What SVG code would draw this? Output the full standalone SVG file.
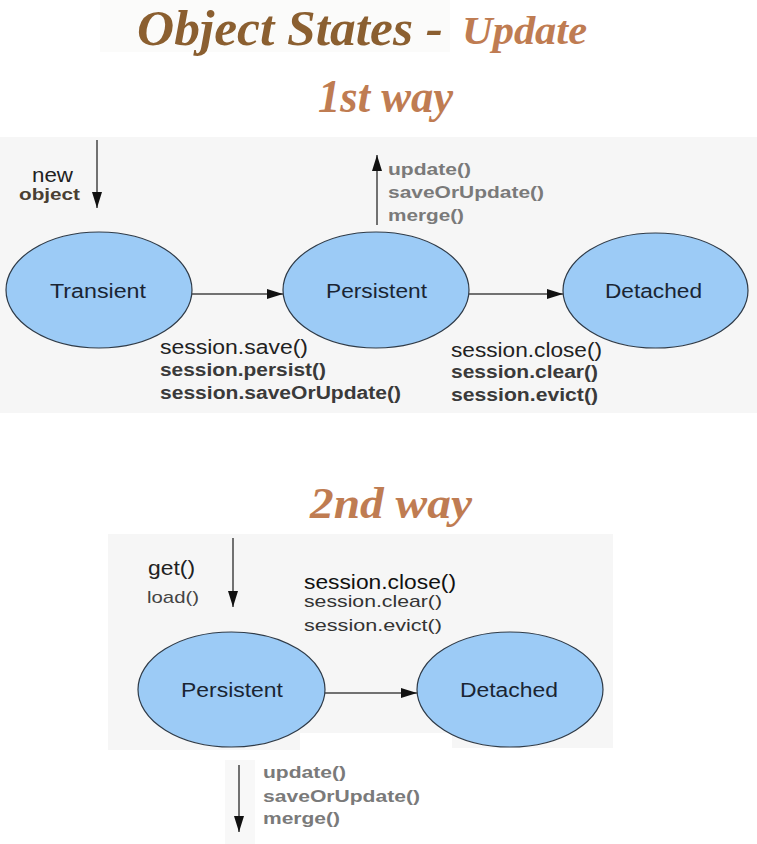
<svg xmlns="http://www.w3.org/2000/svg" width="757" height="844" viewBox="0 0 757 844">
<defs>
<marker id="arr" markerUnits="userSpaceOnUse" markerWidth="16" markerHeight="10" refX="16" refY="5" orient="auto">
<path d="M0,0 L16,5 L0,10 z" fill="#111"/>
</marker>
<style>
.bg{fill:#f6f6f6}
.node{fill:#9ccbf6;stroke:#2f3b48;stroke-width:1.2}
.lbl{font-family:"Liberation Sans",Arial,sans-serif;font-size:20px;fill:#1a2533}
.t{font-family:"Liberation Sans",Arial,sans-serif}
.reg{font-size:20px;fill:#222}
.sm{font-size:17px;fill:#444}
.b{font-size:17px;font-weight:bold;fill:#3a3a3a}
.g{font-size:17px;font-weight:bold;fill:#7a7a7a}
.title{font-family:"Liberation Serif","Times New Roman",serif;font-weight:bold;font-style:italic}
.conn line{stroke:#444;stroke-width:1.5;marker-end:url(#arr)}
</style>
</defs>
<rect width="757" height="844" fill="#ffffff"/>
<rect x="100" y="0" width="350" height="52" fill="#fbfbfa"/>
<rect class="bg" x="0" y="137" width="757" height="276"/>
<path class="bg" d="M108,534 H613 V748 H452 V733 H300 V750 H108 Z"/>
<rect x="225" y="760" width="30" height="84" fill="#f8f8f8"/>

<g id="titles">
<text class="title" x="137" y="45" font-size="50" fill="#8b5f30" textLength="306" lengthAdjust="spacingAndGlyphs">Object States -</text>
<text class="title" x="462" y="44" font-size="40" fill="#bf7c52" textLength="125" lengthAdjust="spacingAndGlyphs">Update</text>
<text class="title" x="318" y="112" font-size="46" fill="#bf7c52" textLength="135" lengthAdjust="spacingAndGlyphs">1st way</text>
<text class="title" x="310" y="518" font-size="44" fill="#bf7c52" textLength="162" lengthAdjust="spacingAndGlyphs">2nd way</text>
</g>

<g id="connectors" class="conn">
<line x1="97" y1="140" x2="97" y2="208"/>
<line x1="192" y1="294" x2="283" y2="294"/>
<line x1="377" y1="225" x2="377" y2="155"/>
<line x1="469" y1="294" x2="563" y2="294"/>
<line x1="233" y1="538" x2="233" y2="607"/>
<line x1="325" y1="693" x2="417" y2="693"/>
<line x1="239" y1="765" x2="239" y2="832"/>
</g>

<g id="transient1">
<ellipse class="node" cx="99" cy="290" rx="93" ry="58"/>
<text class="lbl" x="50" y="298" textLength="96" lengthAdjust="spacingAndGlyphs">Transient</text>
</g>
<g id="persistent1">
<ellipse class="node" cx="376" cy="290" rx="93" ry="58"/>
<text class="lbl" x="326" y="298" textLength="101" lengthAdjust="spacingAndGlyphs">Persistent</text>
</g>
<g id="detached1">
<ellipse class="node" cx="655.5" cy="290.5" rx="92.5" ry="57.5"/>
<text class="lbl" x="605" y="298" textLength="97" lengthAdjust="spacingAndGlyphs">Detached</text>
</g>
<g id="persistent2">
<ellipse class="node" cx="231.5" cy="689.5" rx="93.5" ry="57.5"/>
<text class="lbl" x="181" y="697" textLength="102" lengthAdjust="spacingAndGlyphs">Persistent</text>
</g>
<g id="detached2">
<ellipse class="node" cx="510" cy="689.5" rx="93" ry="57.5"/>
<text class="lbl" x="460" y="697" textLength="98" lengthAdjust="spacingAndGlyphs">Detached</text>
</g>

<g id="labels1">
<text class="t reg" x="32" y="182" font-size="19" textLength="41" lengthAdjust="spacingAndGlyphs">new</text>
<text class="t b" x="19" y="200" style="fill:#4a3f33" textLength="61" lengthAdjust="spacingAndGlyphs">object</text>
<text class="t reg" x="160" y="354" textLength="148" lengthAdjust="spacingAndGlyphs">session.save()</text>
<text class="t b" x="160" y="376" font-size="18" style="font-size:18px" textLength="166" lengthAdjust="spacingAndGlyphs">session.persist()</text>
<text class="t b" x="160" y="399" style="font-size:18px" textLength="241" lengthAdjust="spacingAndGlyphs">session.saveOrUpdate()</text>
<text class="t g" x="388" y="175" textLength="83" lengthAdjust="spacingAndGlyphs">update()</text>
<text class="t g" x="388" y="198" textLength="156" lengthAdjust="spacingAndGlyphs">saveOrUpdate()</text>
<text class="t g" x="388" y="221" textLength="76" lengthAdjust="spacingAndGlyphs">merge()</text>
<text class="t reg" x="451" y="357" textLength="151" lengthAdjust="spacingAndGlyphs">session.close()</text>
<text class="t b" x="451" y="378" style="font-size:18px" textLength="147" lengthAdjust="spacingAndGlyphs">session.clear()</text>
<text class="t b" x="451" y="401" style="font-size:18px" textLength="147" lengthAdjust="spacingAndGlyphs">session.evict()</text>
</g>

<g id="labels2">
<text class="t reg" x="148" y="575" textLength="47" lengthAdjust="spacingAndGlyphs">get()</text>
<text class="t sm" x="147" y="603" textLength="52" lengthAdjust="spacingAndGlyphs">load()</text>
<text class="t reg" x="304" y="589" style="fill:#111" textLength="152" lengthAdjust="spacingAndGlyphs">session.close()</text>
<text class="t sm" x="304" y="607" style="fill:#333" textLength="138" lengthAdjust="spacingAndGlyphs">session.clear()</text>
<text class="t sm" x="304" y="631" style="fill:#333" textLength="138" lengthAdjust="spacingAndGlyphs">session.evict()</text>
<text class="t g" x="263" y="778" textLength="83" lengthAdjust="spacingAndGlyphs">update()</text>
<text class="t g" x="263" y="802" textLength="157" lengthAdjust="spacingAndGlyphs">saveOrUpdate()</text>
<text class="t g" x="263" y="824" textLength="77" lengthAdjust="spacingAndGlyphs">merge()</text>
</g>
</svg>
